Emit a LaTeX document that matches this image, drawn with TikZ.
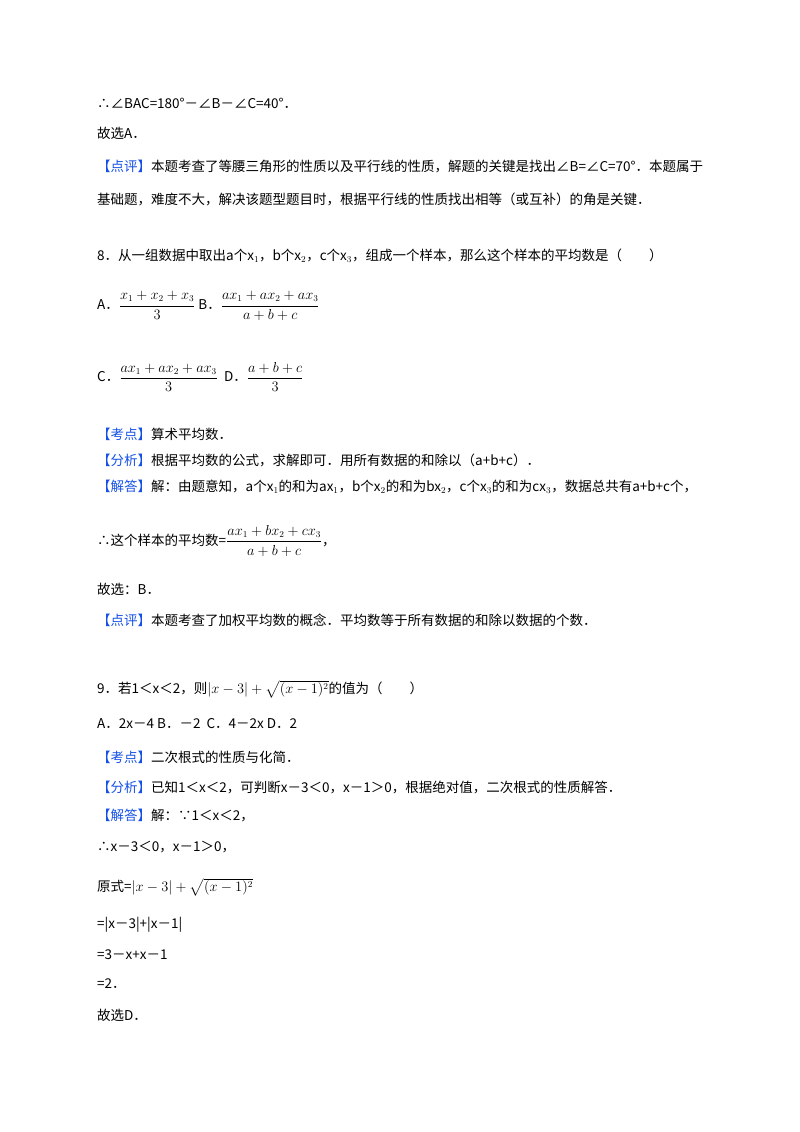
\documentclass[tikz,border=0pt]{standalone}
\usepackage{amsmath}
\usepackage{fontspec}
\setmainfont{Noto Sans CJK SC}
\definecolor{kb}{RGB}{20,80,230}
\begin{document}
\begin{tikzpicture}[x=1pt,y=-1pt,
  t/.style={anchor=west,inner sep=0pt,font=\fontsize{13.5}{16}\selectfont},
  k/.style={text=kb}]
\useasboundingbox (0,0) rectangle (800,1132);
\node[t] (l1) at (97,103) {∴∠BAC=180°－∠B－∠C=40°．};
\node[t] (l2) at (97,133) {故选A．};
\node[t] (l3) at (97,167) {\textcolor{kb}{【点评】}本题考查了等腰三角形的性质以及平行线的性质，解题的关键是找出∠B=∠C=70°．本题属于};
\node[t] (l4) at (97,199) {基础题，难度不大，解决该题型题目时，根据平行线的性质找出相等（或互补）的角是关键．};
\node[t] (l5) at (97,256) {8．从一组数据中取出a个x$_1$，b个x$_2$，c个x$_3$，组成一个样本，那么这个样本的平均数是（\quad\quad）};
\node[t] (l6) at (97,306) {A．$\dfrac{x_1+x_2+x_3}{3}$ B．$\dfrac{ax_1+ax_2+ax_3}{a+b+c}$};
\node[t] (l7) at (97,377) {C．$\dfrac{ax_1+ax_2+ax_3}{3}$ \ D．$\dfrac{a+b+c}{3}$};
\node[t] (l8) at (97,434) {\textcolor{kb}{【考点】}算术平均数．};
\node[t] (l9) at (97,460) {\textcolor{kb}{【分析】}根据平均数的公式，求解即可．用所有数据的和除以（a+b+c）．};
\node[t] (l10) at (97,487) {\textcolor{kb}{【解答】}解：由题意知，a个x$_1$的和为ax$_1$，b个x$_2$的和为bx$_2$，c个x$_3$的和为cx$_3$，数据总共有a+b+c个，};
\node[t] (l11) at (97,541) {∴这个样本的平均数=$\dfrac{ax_1+bx_2+cx_3}{a+b+c}$，};
\node[t] (l12) at (97,589) {故选：B．};
\node[t] (l13) at (97,620) {\textcolor{kb}{【点评】}本题考查了加权平均数的概念．平均数等于所有数据的和除以数据的个数．};
\node[t] (l14) at (97,689) {9．若1＜x＜2，则$|x-3|+\sqrt{(x-1)^2}$的值为（\quad\quad）};
\node[t] (l15) at (97,724) {A．2x－4 B．－2 \ C．4－2x D．2};
\node[t] (l16) at (97,757) {\textcolor{kb}{【考点】}二次根式的性质与化简．};
\node[t] (l17) at (97,787) {\textcolor{kb}{【分析】}已知1＜x＜2，可判断x－3＜0，x－1＞0，根据绝对值，二次根式的性质解答．};
\node[t] (l18) at (97,816) {\textcolor{kb}{【解答】}解：∵1＜x＜2，};
\node[t] (l19) at (97,847) {∴x－3＜0，x－1＞0，};
\node[t] (l20) at (97,887) {原式=$|x-3|+\sqrt{(x-1)^2}$};
\node[t] (l21) at (97,925) {=|x－3|+|x－1|};
\node[t] (l22) at (97,955) {=3－x+x－1};
\node[t] (l23) at (97,984) {=2．};
\node[t] (l24) at (97,1015) {故选D．};
\end{tikzpicture}
\end{document}
